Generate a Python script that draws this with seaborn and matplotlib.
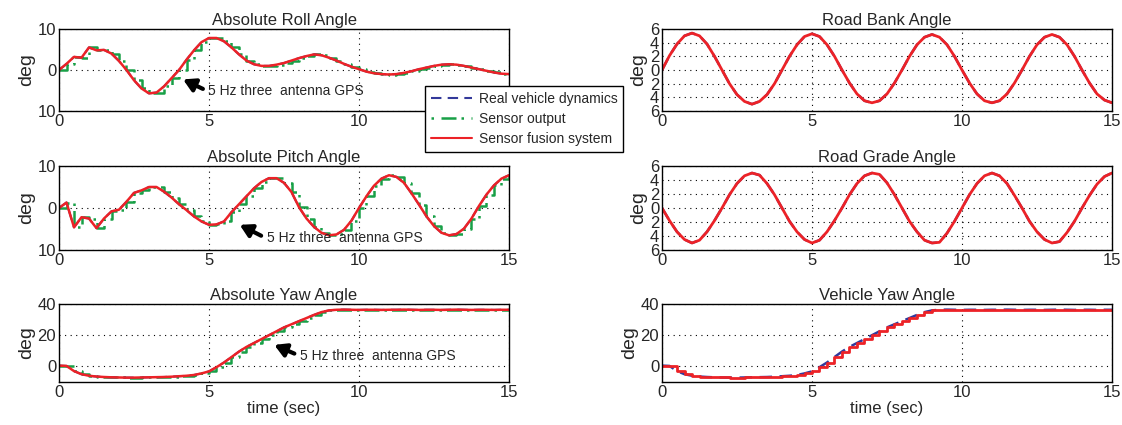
import numpy as np
import pandas as pd
import matplotlib
matplotlib.use("Agg")
import matplotlib.pyplot as plt
import seaborn as sns
from matplotlib.ticker import FuncFormatter

# time axis, one sample every 0.25 s
time = np.arange(0, 15.01, 0.25)

# values (deg)
roll = [0, 1.5, 3.2, 3.0, 5.5, 4.8, 4.9, 4.0, 2.2, 0, -2.5, -4.5, -5.7, -5.5, -4.0, -2.0,
        0, 2.5, 4.8, 6.8, 7.8, 7.8, 7.0, 5.5, 3.8, 2.3, 1.4, 1.0, 1.0, 1.3, 1.7, 2.3,
        2.9, 3.4, 3.8, 3.6, 3.0, 2.3, 1.5, 0.8, 0.2, -0.4, -0.8, -1.0, -1.1, -1.0, -0.7, -0.3,
        0.2, 0.6, 1.0, 1.3, 1.4, 1.3, 1.0, 0.6, 0.2, -0.2, -0.6, -0.9, -1.0]
pitch = [0, 1.3, -4.6, -2.2, -2.5, -4.8, -2.5, -0.8, -0.4, 1.5, 3.6, 4.2, 5.0, 5.0, 3.9, 2.5,
         0.9, -0.5, -2.0, -3.2, -4.0, -3.9, -3.2, -1.0, 0.9, 2.8, 4.7, 6.2, 7.1, 7.1, 6.0, 3.8,
         0.2, -2.5, -4.5, -5.9, -6.5, -6.3, -5.2, -3.0, 0, 2.8, 5.3, 7.0, 7.8, 7.4, 6.0, 3.5,
         0.8, -2.0, -4.3, -5.9, -6.5, -6.2, -4.9, -2.5, 0.5, 3.2, 5.4, 7.0, 7.8]
yaw = [0.5, 0.3, -3.0, -5.0, -6.0, -6.5, -6.8, -7.0, -7.1, -7.2, -7.2, -7.1, -7.0, -6.9, -6.8, -6.6,
       -6.3, -6.0, -5.5, -4.5, -3.2, -0.5, 2.5, 6.0, 9.5, 12.5, 15.0, 17.5, 20.0, 22.5, 25.0, 27.0,
       29.0, 31.0, 33.0, 34.8, 35.9, 36.3, 36.4, 36.3, 36.2, 36.3, 36.3, 36.2, 36.3, 36.3, 36.4, 36.3,
       36.2, 36.3, 36.3, 36.2, 36.3, 36.4, 36.3, 36.2, 36.3, 36.3, 36.2, 36.3, 36.3]
bank = [0, 2.1, 3.8, 5.0, 5.4, 5.0, 3.8, 2.0, 0, -2.0, -3.6, -4.6, -5.0, -4.6, -3.6, -2.0,
        0, 2.0, 3.7, 4.9, 5.3, 4.9, 3.7, 2.0, 0, -1.9, -3.5, -4.5, -4.8, -4.5, -3.5, -1.9,
        0, 2.0, 3.7, 4.8, 5.2, 4.8, 3.7, 2.0, 0, -1.9, -3.5, -4.5, -4.8, -4.5, -3.5, -1.9,
        0, 2.0, 3.7, 4.8, 5.2, 4.8, 3.7, 2.0, 0, -1.9, -3.5, -4.4, -4.8]
grade = [0, -1.8, -3.4, -4.5, -5.0, -4.6, -3.4, -1.8, 0, 1.9, 3.5, 4.6, 5.0, 4.7, 3.5, 1.9,
         0, -1.9, -3.4, -4.5, -5.0, -4.6, -3.4, -1.8, 0, 1.9, 3.5, 4.6, 5.0, 4.8, 3.6, 1.9,
         0, -1.9, -3.4, -4.6, -5.0, -4.9, -3.6, -1.9, 0, 1.9, 3.5, 4.6, 5.0, 4.6, 3.5, 1.8,
         0, -1.9, -3.4, -4.5, -5.0, -4.8, -3.5, -1.9, 0, 1.8, 3.4, 4.5, 5.0]
veh_yaw = yaw

titles = ["Absolute Roll Angle", "Road Bank Angle", "Absolute Pitch Angle",
          "Road Grade Angle", "Absolute Yaw Angle", "Vehicle Yaw Angle"]
legend_labels = ["Real vehicle dynamics", "Sensor output", "Sensor fusion system"]
gps_text = "5 Hz three  antenna GPS"

blue = "#33399a"
green = "#18a047"
red = "#ec2227"

sns.set_style("white")
plt.rcParams["font.family"] = ["Liberation Sans", "DejaVu Sans"]

fig = plt.figure(figsize=(11.22, 4.25), dpi=100)
W, H = 1122, 425
rows = [(29, 111), (166, 250), (304, 382)]
cols = [59, 662]

def make_ax(col, row):
    x0 = cols[col]
    top, bot = rows[row]
    return fig.add_axes([x0 / W, 1 - bot / H, 450 / W, (bot - top) / H])

abs_fmt = FuncFormatter(lambda v, p: f"{abs(v):g}")

def style(ax, title, ylim, yticks, xlabel=None):
    ax.set_xlim(0, 15)
    ax.set_ylim(*ylim)
    ax.set_xticks([0, 5, 10, 15])
    ax.set_yticks(yticks)
    ax.yaxis.set_major_formatter(abs_fmt)
    ax.grid(True, color="black", linestyle=(0, (1, 4)), linewidth=0.8)
    ax.set_title(title, fontsize=12, pad=3)
    ax.set_ylabel("deg", fontsize=14, labelpad=2)
    ax.set_xlabel(xlabel if xlabel else "", fontsize=12, labelpad=1)
    ax.tick_params(labelsize=12, direction="in", length=3, pad=2)
    for s in ax.spines.values():
        s.set_color("black")
        s.set_linewidth(1.0)

left_data = [roll, pitch, yaw]
left_lims = [((-10, 10), [-10, 0, 10]), ((-10, 10), [-10, 0, 10]), ((-10, 40), [0, 20, 40])]
arrows = [((4.05, -2.0), (4.98, -5.2)), ((5.94, -3.7), (6.92, -7.2)), ((7.09, 14.5), (8.03, 6.5))]

for i, vals in enumerate(left_data):
    ax = make_ax(0, i)
    df = pd.DataFrame({"t": time, "v": vals})
    sns.lineplot(data=df, x="t", y="v", ax=ax, color=green, linewidth=1.8,
                 linestyle=(0, (6, 2, 1, 2)), drawstyle="steps-post")
    sns.lineplot(data=df, x="t", y="v", ax=ax, color=blue, linewidth=1.5,
                 linestyle=(0, (5, 3)))
    sns.lineplot(data=df, x="t", y="v", ax=ax, color=red, linewidth=1.8)
    style(ax, titles[2 * i], left_lims[i][0], left_lims[i][1],
          "time (sec)" if i == 2 else None)
    tip, txt = arrows[i]
    ax.annotate("", xy=tip, xytext=(txt[0] - 0.1, txt[1] + 0.3 if i < 2 else txt[1] + 1),
                arrowprops=dict(arrowstyle="-|>,head_length=0.7,head_width=0.4",
                                color="black", lw=3))
    ax.text(txt[0], txt[1], gps_text, fontsize=10, va="center", ha="left")

right_data = [bank, grade, veh_yaw]
right_lims = [((-6, 6), [-6, -4, -2, 0, 2, 4, 6]), ((-6, 6), [-6, -4, -2, 0, 2, 4, 6]),
              ((-10, 40), [0, 20, 40])]
for i, vals in enumerate(right_data):
    ax = make_ax(1, i)
    df = pd.DataFrame({"t": time, "v": vals})
    sns.lineplot(data=df, x="t", y="v", ax=ax, color=blue, linewidth=1.8,
                 linestyle=(0, (5, 3)))
    sns.lineplot(data=df, x="t", y="v", ax=ax, color=red, linewidth=2.0,
                 drawstyle="steps-post" if i == 2 else "default")
    style(ax, titles[2 * i + 1], right_lims[i][0], right_lims[i][1],
          "time (sec)" if i == 2 else None)

handles = [plt.Line2D([], [], color=blue, lw=1.5, linestyle=(0, (5, 3))),
           plt.Line2D([], [], color=green, lw=1.8, linestyle=(0, (1, 3, 6, 2))),
           plt.Line2D([], [], color=red, lw=1.5)]
leg = fig.legend(handles, legend_labels, loc="upper left",
                 bbox_to_anchor=(425 / W, 1 - 86 / H), fontsize=10, frameon=True,
                 fancybox=False, edgecolor="black", framealpha=1, borderaxespad=0,
                 handlelength=3.0, borderpad=0.4, labelspacing=0.45, handletextpad=0.5)
leg.get_frame().set_linewidth(1.0)
leg.set_zorder(10)

fig.savefig("out.png", dpi=100)
